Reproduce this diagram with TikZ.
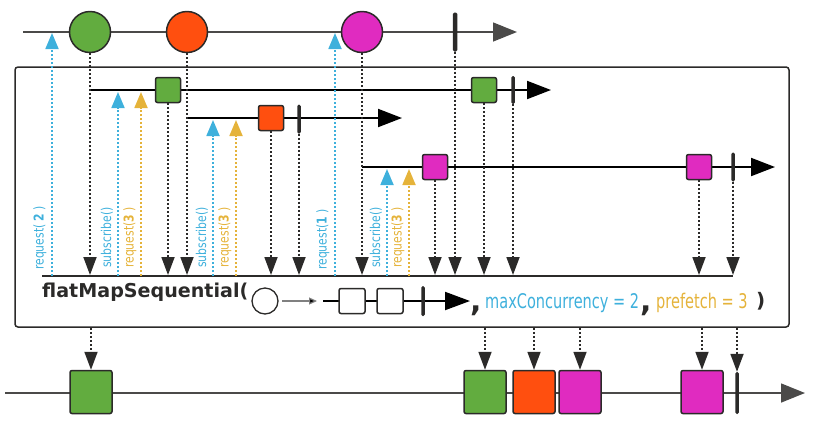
\documentclass[tikz,border=0pt]{standalone}
\usepackage{fontspec}
\setmainfont{DejaVu Sans}
\newfontfamily\narrowfont[FakeStretch=0.8]{DejaVu Sans}
\newfontfamily\optfont[FakeStretch=0.72]{DejaVu Sans}
\usetikzlibrary{arrows.meta}
\definecolor{mgreen}{HTML}{62AC3F}
\definecolor{morange}{HTML}{FF4F0F}
\definecolor{mpink}{HTML}{E02BC0}
\definecolor{mblue}{HTML}{3EB0DC}
\definecolor{myellow}{HTML}{E5B33A}
\definecolor{mdark}{HTML}{2B2A29}
\begin{document}
\begin{tikzpicture}[x=1pt,y=-1pt,
    marble/.style={circle,draw=mdark,line width=1.5pt,minimum size=41pt,inner sep=0pt},
    item/.style={rectangle,rounded corners=2pt,draw=mdark,line width=1.5pt,minimum size=25pt,inner sep=0pt},
    bigitem/.style={item,minimum width=42pt,minimum height=43pt},
    endbar/.style={rectangle,rounded corners=1.5pt,fill=mdark,minimum width=3.5pt,inner sep=0pt},
    timeline/.style={draw=mdark!85,line width=1.5pt,-{Triangle[length=24pt,width=19pt]}},
    subline/.style={draw=black,line width=2pt,-{Triangle[length=24pt,width=18pt]}},
    down/.style={draw=mdark,line width=1.8pt,dash pattern=on 2pt off 2pt,-{Triangle[length=18pt,width=13pt]}},
    up/.style={line width=1.8pt,dash pattern=on 2pt off 2pt,-{Triangle[length=16pt,width=13pt]}},
    vlabel/.style={rotate=90,anchor=west,inner sep=0pt,font=\narrowfont\fontsize{13.5}{14}\selectfont},
    optlabel/.style={anchor=base west,inner sep=0pt,font=\optfont\fontsize{20.2}{21}\selectfont},
    punct/.style={anchor=base west,inner sep=0pt,text=mdark,font=\bfseries\fontsize{20}{20}\selectfont}]
    \useasboundingbox (0,0) rectangle (813,424);

    \node[draw=mdark,line width=1.5pt,rounded corners=3pt,minimum width=774pt,minimum height=260pt] (box) at (402,197) {};

    \coordinate (tl0) at (23,32);
    \coordinate (tl1) at (517,32);
    \draw[timeline] (tl0) -- (tl1);
    \coordinate (s1a) at (90,90);
    \coordinate (s1b) at (551,90);
    \draw[subline] (s1a) -- (s1b);
    \coordinate (s2a) at (188,118);
    \coordinate (s2b) at (402,118);
    \draw[subline] (s2a) -- (s2b);
    \coordinate (s3a) at (362,167);
    \coordinate (s3b) at (775,167);
    \draw[subline] (s3a) -- (s3b);
    \coordinate (f0) at (42,276);
    \coordinate (f1) at (733,276);
    \draw[mdark,line width=1.5pt] (f0) -- (f1);
    \coordinate (base) at (0,275);
    \coordinate (bl0) at (5,393);
    \coordinate (bl1) at (805,393);
    \draw[timeline] (bl0) -- (bl1);

    \node[marble,fill=mgreen] (c1) at (90,32) {};
    \node[marble,fill=morange] (c2) at (187,32) {};
    \node[marble,fill=mpink] (c3) at (362,32) {};
    \node[endbar,minimum width=4.5pt,minimum height=39pt] (e0) at (455,32) {};

    \node[item,fill=mgreen] (g1) at (168,90) {};
    \node[item,fill=mgreen] (g2) at (484,90) {};
    \node[endbar,minimum height=28pt] (e1) at (513,90) {};
    \node[item,fill=morange] (o1) at (271,118) {};
    \node[endbar,minimum height=29pt] (e2) at (299,119) {};
    \node[item,fill=mpink] (m1) at (435,167) {};
    \node[item,fill=mpink] (m2) at (699,167) {};
    \node[endbar,minimum height=29pt] (e3) at (733,167) {};

    \node[bigitem,fill=mgreen] (b1) at (91,392) {};
    \node[bigitem,fill=mgreen] (b2) at (485,392) {};
    \node[bigitem,fill=morange] (b3) at (534,392) {};
    \node[bigitem,fill=mpink] (b4) at (580,392) {};
    \node[bigitem,fill=mpink] (b5) at (702,392) {};
    \node[endbar,minimum height=42pt] (eb) at (737,393) {};

    \foreach \n in {c1,c2,c3,e0,g1,g2,e1,o1,e2,m1,m2,e3}
        \draw[down] (\n.south) -- (\n |- base);
    \foreach \n in {b1,b2,b3,b4,b5,eb}
        \draw[down] (\n |- box.south) -- (\n.north);

    \foreach \x/\y/\c [count=\i] in {52/33/mblue,335/33/mblue,118/92/mblue,141/92/myellow,213/120/mblue,236/120/myellow,387/169/mblue,409/169/myellow}{
        \coordinate (ua\i) at (\x,276);
        \coordinate (ub\i) at (\x,\y);
        \draw[up,\c] (ua\i) -- (ub\i);
    }

    \node[vlabel,text=mblue] (rq2) at (40,270) {request( \textbf{2} )};
    \node[vlabel,text=mblue] (sub1) at (107,268) {subscribe()};
    \node[vlabel,text=myellow] (rq3a) at (130,268) {request(\textbf{3} )};
    \node[vlabel,text=mblue] (sub2) at (202,268) {subscribe()};
    \node[vlabel,text=myellow] (rq3b) at (225,268) {request(\textbf{3} )};
    \node[vlabel,text=mblue] (rq1) at (323,270) {request(\textbf{1} )};
    \node[vlabel,text=mblue] (sub3) at (376,268) {subscribe()};
    \node[vlabel,text=myellow] (rq3c) at (398,268) {request(\textbf{3} )};

    \node[anchor=base west,inner sep=0pt,text=mdark,font=\bfseries\fontsize{19.1}{21}\selectfont] (fn) at (42,297) {flatMapSequential(};
    \node[circle,draw=mdark,line width=1.3pt,minimum size=26pt,inner sep=0pt] (fc) at (265,301) {};
    \coordinate (fa0) at (282,301);
    \coordinate (fa1) at (317,301);
    \draw[gray,line width=1.2pt,-{Triangle[length=8pt,width=7pt,fill=black]}] (fa0) -- (fa1);
    \coordinate (fl0) at (323,301);
    \coordinate (fl1) at (470,301);
    \draw[black,line width=2pt,-{Triangle[length=25pt,width=18pt]}] (fl0) -- (fl1);
    \node[item,fill=white,minimum width=26pt] (fs1) at (352,301) {};
    \node[item,fill=white,minimum width=26pt] (fs2) at (390,301) {};
    \node[endbar,minimum height=30pt] (fe) at (423,301) {};
    \node[punct,font=\bfseries\fontsize{30}{30}\selectfont] (cm1) at (470,311) {,};
    \node[optlabel,text=mblue] (mc) at (485,308) {maxConcurrency = 2};
    \node[punct,font=\bfseries\fontsize{30}{30}\selectfont] (cm2) at (640,311) {,};
    \node[optlabel,text=myellow] (pf) at (656,308) {prefetch = 3};
    \node[punct] (cl) at (756,307) {)};
\end{tikzpicture}
\end{document}
